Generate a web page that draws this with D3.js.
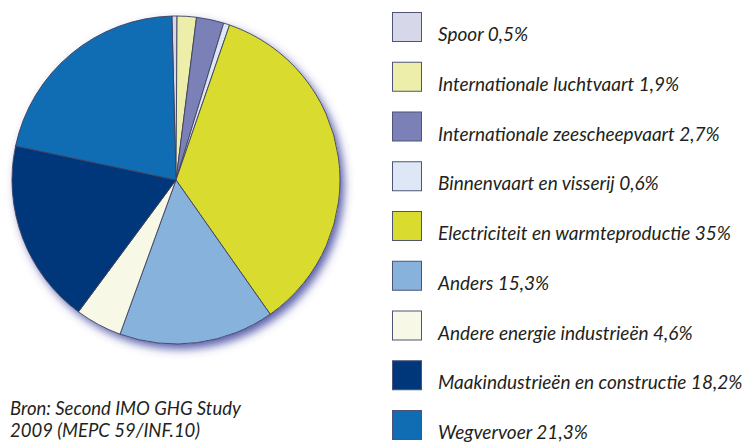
<!DOCTYPE html>
<html>
<head>
<meta charset="utf-8">
<script src="https://cdn.jsdelivr.net/npm/d3@7"></script>
<style>
  body { margin: 0; background: #fff; }
  text { font-family: Lato, "Open Sans", sans-serif; font-style: italic; fill: #231f20; }
</style>
</head>
<body>
<div id="chart"></div>
<script>
// sectors, clockwise from the top
var categories = ["Spoor", "Internationale luchtvaart", "Internationale zeescheepvaart",
  "Binnenvaart en visserij", "Electriciteit en warmteproductie", "Anders",
  "Andere energie industrieën", "Maakindustrieën en constructie", "Wegvervoer"];
var values = [0.5, 1.9, 2.7, 0.6, 35, 15.3, 4.6, 18.2, 21.3];
var valueLabels = ["0,5%", "1,9%", "2,7%", "0,6%", "35%", "15,3%", "4,6%", "18,2%", "21,3%"];
var colors = ["#d6d7e9", "#eeeeab", "#7b81b6", "#dde7f5", "#d9dc2f", "#87b2dc",
  "#f8f8e7", "#00377a", "#106db4"];
var sourceLines = ["Bron: Second IMO GHG Study", "2009 (MEPC 59/INF.10)"];

var svgWidth = 754;
var svgHeight = 443;

var svg = d3.select("#chart")
  .append("svg")
  .attr("width", svgWidth)
  .attr("height", svgHeight);

// bluish drop shadow under the pie
var defs = svg.append("defs");
var shadow = defs.append("filter")
  .attr("id", "shadow")
  .attr("x", "-20%").attr("y", "-20%")
  .attr("width", "140%").attr("height", "140%");
shadow.append("feGaussianBlur").attr("in", "SourceAlpha").attr("stdDeviation", 5).attr("result", "blur");
shadow.append("feOffset").attr("in", "blur").attr("dx", 4).attr("dy", 5).attr("result", "off");
shadow.append("feFlood").attr("flood-color", "#3a3f9c").attr("flood-opacity", 0.85);
shadow.append("feComposite").attr("in2", "off").attr("operator", "in").attr("result", "sh");
var merge = shadow.append("feMerge");
merge.append("feMergeNode").attr("in", "sh");
merge.append("feMergeNode").attr("in", "SourceGraphic");

var cx = 176, cy = 180, radius = 164;

var pie = d3.pie()
  .sort(null)
  .startAngle(-0.025)
  .endAngle(-0.025 + 2 * Math.PI);

var arc = d3.arc().innerRadius(0).outerRadius(radius);

var pieGroup = svg.append("g")
  .attr("transform", `translate(${cx}, ${cy})`);

pieGroup.append("circle")
  .attr("r", radius)
  .attr("fill", "#fff")
  .attr("filter", "url(#shadow)");

pieGroup.selectAll("path")
  .data(pie(values))
  .enter()
  .append("path")
  .attr("d", arc)
  .attr("fill", (d, i) => colors[i])
  .attr("stroke", "#3b405e")
  .attr("stroke-width", 0.9)
  .attr("stroke-linejoin", "round");

// legend
var legendY = d3.scaleLinear()
  .domain([0, categories.length - 1])
  .range([12, 410]);

var legend = svg.append("g");

var items = legend.selectAll("g")
  .data(categories)
  .enter()
  .append("g")
  .attr("transform", (d, i) => `translate(392, ${legendY(i)})`);

items.append("rect")
  .attr("x", 0.5).attr("y", 0.5)
  .attr("width", 29).attr("height", 29)
  .attr("fill", (d, i) => colors[i])
  .attr("stroke", "#4d5477")
  .attr("stroke-width", 1);

items.append("text")
  .attr("x", 46)
  .attr("y", 29)
  .attr("font-size", "19px")
  .text((d, i) => d + " " + valueLabels[i]);

// source note
svg.append("g")
  .selectAll("text")
  .data(sourceLines)
  .enter()
  .append("text")
  .attr("x", 10)
  .attr("y", (d, i) => 415 + i * 22)
  .attr("font-size", "18.5px")
  .text(d => d);
</script>
</body>
</html>
